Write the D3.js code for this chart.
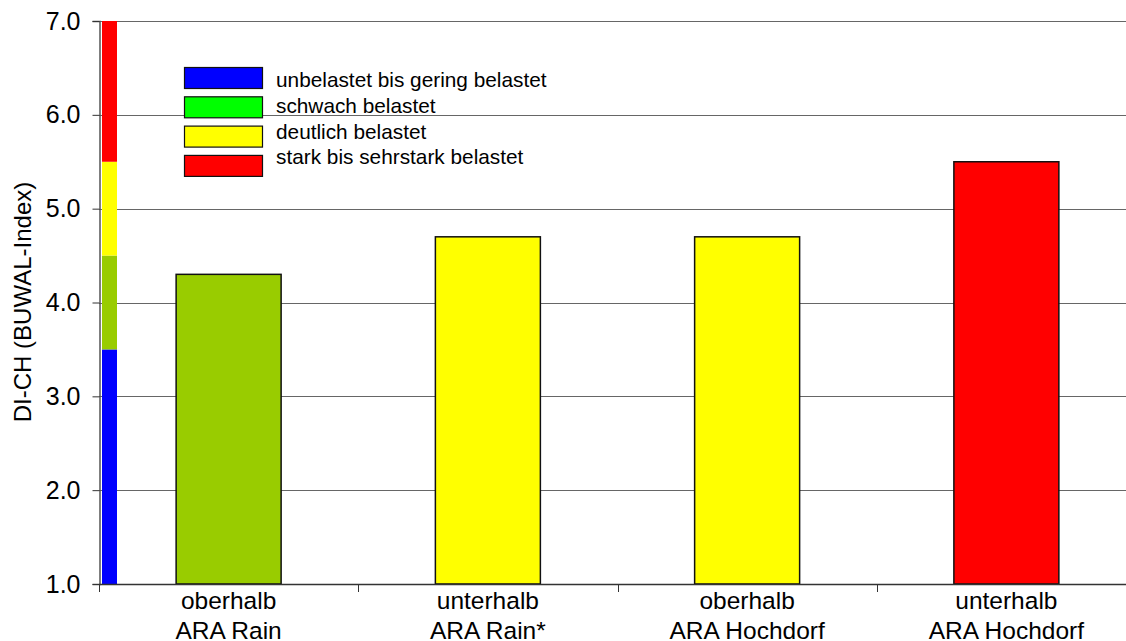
<!DOCTYPE html>
<html>
<head>
<meta charset="utf-8">
<script src="https://cdn.jsdelivr.net/npm/d3@7"></script>
<style>
  html, body { margin: 0; padding: 0; background: #fff; }
  svg { display: block; font-family: "Liberation Sans", Arial, sans-serif; }
</style>
</head>
<body>
<svg id="chart" width="1126" height="641"></svg>
<script>
// ---- data ----
const catLine1 = ["oberhalb", "unterhalb", "oberhalb", "unterhalb"];
const catLine2 = ["ARA Rain", "ARA Rain*", "ARA Hochdorf", "ARA Hochdorf"];
const values = [4.3, 4.7, 4.7, 5.5];
const barColors = ["#99CC00", "#FFFF00", "#FFFF00", "#FF0000"];

const classBounds = [1.0, 3.5, 4.5, 5.5, 7.0];
const stripColors = ["#0000FF", "#99CC00", "#FFFF00", "#FF0000"];

const legendLabels = ["unbelastet bis gering belastet", "schwach belastet", "deutlich belastet", "stark bis sehrstark belastet"];
const legendColors = ["#0000FF", "#00FF00", "#FFFF00", "#FF0000"];

const yTicks = [1, 2, 3, 4, 5, 6, 7];
const yTitle = "DI-CH (BUWAL-Index)";

// ---- layout ----
const W = 1126, H = 641;
const mLeft = 99, mRight = 1136, mTop = 21, mBottom = 584;

const svg = d3.select("#chart");

const y = d3.scaleLinear().domain([1, 7]).range([mBottom, mTop]);
const x = d3.scaleBand().domain(d3.range(values.length)).range([mLeft, mRight]).padding(0);
const barW = x.bandwidth() * 0.405;

// gridlines
svg.append("g").selectAll("line").data(yTicks.slice(1)).join("line")
  .attr("x1", mLeft).attr("x2", W)
  .attr("y1", d => Math.round(y(d)) + 0.5).attr("y2", d => Math.round(y(d)) + 0.5)
  .attr("stroke", "#666").attr("stroke-width", 1);

// class strip
const strip = d3.range(stripColors.length).map(i => ({ a: classBounds[i], b: classBounds[i + 1], c: stripColors[i] }));
svg.append("g").selectAll("rect").data(strip).join("rect")
  .attr("x", 102).attr("width", 15)
  .attr("y", d => y(d.b)).attr("height", d => y(d.a) - y(d.b))
  .attr("fill", d => d.c);

// bars
svg.append("g").selectAll("rect").data(values).join("rect")
  .attr("x", (d, i) => x(i) + (x.bandwidth() - barW) / 2)
  .attr("width", barW)
  .attr("y", d => y(d)).attr("height", d => y(1) - y(d))
  .attr("fill", (d, i) => barColors[i])
  .attr("stroke", "#111").attr("stroke-width", 1.5);

// y axis
const yAxis = d3.axisLeft(y).tickValues(yTicks).tickFormat(d3.format(".1f")).tickSize(7).tickPadding(12);
const gy = svg.append("g").attr("transform", `translate(${mLeft + 0.5},0)`).call(yAxis);
gy.select(".domain").attr("stroke", "#555").attr("stroke-width", 1.5);
gy.selectAll(".tick line").attr("stroke", "#333");
gy.selectAll(".tick text").attr("font-size", 25).attr("fill", "#000")
  .attr("font-family", "'Liberation Sans', Arial, sans-serif");

// x axis
const xTickPos = d3.range(values.length + 1).map(i => mLeft + i * x.step());
svg.append("line").attr("x1", mLeft).attr("x2", W)
  .attr("y1", mBottom + 0.5).attr("y2", mBottom + 0.5)
  .attr("stroke", "#333").attr("stroke-width", 1.5);
svg.append("g").selectAll("line").data(xTickPos).join("line")
  .attr("x1", d => Math.round(d) + 0.5).attr("x2", d => Math.round(d) + 0.5)
  .attr("y1", mBottom).attr("y2", mBottom + 8)
  .attr("stroke", "#333").attr("stroke-width", 1);

const xl = svg.append("g").attr("font-size", 24.5).attr("text-anchor", "middle").attr("fill", "#000");
xl.selectAll("text.l1").data(catLine1).join("text").attr("class", "l1")
  .attr("x", (d, i) => x(i) + x.bandwidth() / 2).attr("y", 609).text(d => d);
xl.selectAll("text.l2").data(catLine2).join("text").attr("class", "l2")
  .attr("x", (d, i) => x(i) + x.bandwidth() / 2).attr("y", 639).text(d => d);

// y title
svg.append("text")
  .attr("transform", "translate(31,302) rotate(-90)")
  .attr("text-anchor", "middle").attr("font-size", 24).attr("fill", "#000")
  .text(yTitle);

// legend
const lg = svg.append("g");
lg.selectAll("rect").data(legendColors).join("rect")
  .attr("x", 184.5).attr("width", 78)
  .attr("y", (d, i) => 67.5 + i * 29.3).attr("height", 21)
  .attr("fill", d => d).attr("stroke", "#111").attr("stroke-width", 1.2);
lg.selectAll("text").data(legendLabels).join("text")
  .attr("x", 276).attr("y", (d, i) => 87 + i * 25.8)
  .attr("font-size", 20.8).attr("fill", "#000")
  .text(d => d);
</script>
</body>
</html>
